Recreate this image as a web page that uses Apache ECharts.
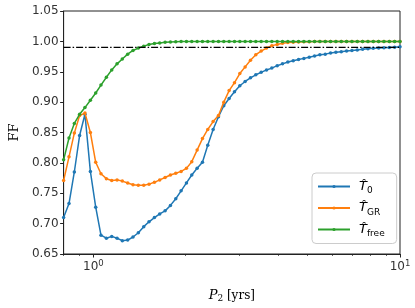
<!DOCTYPE html>
<html>
<head>
<meta charset="utf-8">
<script src="https://cdn.jsdelivr.net/npm/echarts@6/dist/echarts.min.js"></script>
<style>html,body{margin:0;padding:0;background:#fff}#c{width:415px;height:308px}</style>
</head>
<body>
<div id="c"></div>
<script>
var periods = [0.800,0.833,0.867,0.902,0.939,0.978,1.018,1.059,1.103,1.148,1.195,1.243,1.294,1.347,1.402,1.460,1.519,1.582,1.646,1.714,1.784,1.857,1.933,2.012,2.094,2.180,2.269,2.361,2.458,2.559,2.663,2.772,2.886,3.004,3.126,3.254,3.387,3.526,3.670,3.820,3.977,4.139,4.308,4.485,4.668,4.859,5.058,5.265,5.480,5.704,5.937,6.180,6.433,6.696,6.970,7.255,7.552,7.861,8.182,8.517,8.865,9.228,9.605,10.000];
var ffT0 = [0.710,0.733,0.785,0.845,0.880,0.786,0.727,0.681,0.676,0.679,0.676,0.672,0.673,0.678,0.685,0.695,0.703,0.710,0.716,0.721,0.730,0.741,0.754,0.767,0.780,0.791,0.801,0.829,0.855,0.876,0.894,0.906,0.917,0.927,0.934,0.940,0.945,0.949,0.953,0.956,0.960,0.963,0.966,0.968,0.970,0.972,0.974,0.976,0.978,0.979,0.981,0.982,0.983,0.984,0.985,0.986,0.987,0.988,0.9885,0.989,0.9895,0.990,0.9905,0.991];
var ffTGR = [0.771,0.810,0.849,0.878,0.882,0.850,0.801,0.782,0.774,0.771,0.772,0.770,0.767,0.764,0.763,0.763,0.765,0.768,0.772,0.776,0.780,0.783,0.786,0.791,0.802,0.821,0.840,0.855,0.868,0.878,0.900,0.919,0.932,0.947,0.958,0.969,0.978,0.984,0.989,0.993,0.995,0.997,0.998,0.9985,0.999,0.9993,0.9995,0.9997,0.9998,0.9999,1.0,1.0,1.0,1.0,1.0,1.0,1.0,1.0,1.0,1.0,1.0,1.0,1.0,1.0];
var ffTfree = [0.805,0.841,0.865,0.880,0.891,0.903,0.915,0.928,0.941,0.953,0.963,0.971,0.979,0.985,0.989,0.992,0.995,0.9965,0.9975,0.9985,0.999,0.9994,0.9996,0.9998,0.9999,1.0,1.0,1.0,1.0,1.0,1.0,1.0,1.0,1.0,1.0,1.0,1.0,1.0,1.0,1.0,1.0,1.0,1.0,1.0,1.0,1.0,1.0,1.0,1.0,1.0,1.0,1.0,1.0,1.0,1.0,1.0,1.0,1.0,1.0,1.0,1.0,1.0,1.0,1.0];
var thresholdFF = 0.99;
var seriesNames = ['T0', 'TGR', 'Tfree'];
var seriesSubs = ['0', 'GR', 'free'];
var majorXTicks = [1, 10];
var minorXTicks = [0.8, 0.9, 2, 3, 4, 5, 6, 7, 8, 9];
var colors = ['#1f77b4', '#ff7f0e', '#2ca02c'];

function pairs(ys) { return periods.map(function (p, i) { return [p, ys[i]]; }); }

var chart = echarts.init(document.getElementById('c'), null, {renderer: 'canvas'});
var allSeries = [ffT0, ffTGR, ffTfree].map(function (ys, k) {
  return {
    name: seriesNames[k], type: 'line', data: pairs(ys),
    symbol: 'circle', symbolSize: 3.5, showSymbol: true,
    lineStyle: {width: 1.5, color: colors[k]},
    itemStyle: {color: colors[k]},
    emphasis: {disabled: true}, z: 2 + k
  };
});
allSeries.push({
  name: 'thr', type: 'line', data: [[periods[0], thresholdFF], [periods[periods.length - 1], thresholdFF]],
  symbol: 'none', lineStyle: {width: 1.2, color: '#000', type: [7, 2, 1.5, 2]}, z: 10, silent: true
});

chart.setOption({
  animation: false,
  backgroundColor: '#fff',
  grid: {left: 63, right: 15, top: 11, bottom: 51, show: true, borderColor: '#222', borderWidth: 1, backgroundColor: 'transparent'},
  xAxis: [{
    type: 'log', logBase: 10, min: 0.8, max: 10,
    name: '{i|P}{sub|2}{r| [yrs]}', nameLocation: 'middle', nameGap: 34,
    nameTextStyle: {rich: {
      i: {fontFamily: 'DejaVu Serif', fontStyle: 'italic', fontSize: 13, color: '#000'},
      sub: {fontFamily: 'DejaVu Serif', fontSize: 9, color: '#000', verticalAlign: 'bottom', padding: [6, 0, 0, 0]},
      r: {fontFamily: 'DejaVu Serif', fontSize: 12, color: '#000'}
    }},
    axisLine: {show: true, lineStyle: {color: '#222', width: 1}},
    axisTick: {show: true, length: 3.5, lineStyle: {color: '#222'}, customValues: majorXTicks},
    axisLabel: {
      customValues: majorXTicks, margin: 5,
      formatter: function (v) {
        if (Math.abs(v - 1) < 1e-6) return '{b|10}{s|0}';
        if (Math.abs(v - 10) < 1e-6) return '{b|10}{s|1}';
        return '';
      },
      rich: {
        b: {fontFamily: 'DejaVu Sans', fontSize: 12, color: '#333'},
        s: {fontFamily: 'DejaVu Sans', fontSize: 8.5, color: '#333', verticalAlign: 'top', padding: [0, 0, 7, 0]}
      }
    },
    splitLine: {show: false}
  }, {
    type: 'log', logBase: 10, min: 0.8, max: 10, gridIndex: 0, position: 'bottom',
    axisLine: {show: false},
    axisTick: {show: true, length: 2, lineStyle: {color: '#222', width: 0.7}, customValues: minorXTicks},
    axisLabel: {show: false},
    splitLine: {show: false}
  }],
  yAxis: {
    type: 'value', min: 0.65, max: 1.05, interval: 0.05,
    name: 'FF', nameLocation: 'middle', nameGap: 38, nameRotate: 90,
    nameTextStyle: {fontFamily: 'DejaVu Serif', fontSize: 13, color: '#000'},
    axisLine: {show: true, lineStyle: {color: '#222', width: 1}},
    axisTick: {show: true, length: 3.5, lineStyle: {color: '#222'}},
    axisLabel: {fontFamily: 'DejaVu Sans', fontSize: 12, color: '#333', margin: 5,
      formatter: function (v) { return v.toFixed(2); }},
    splitLine: {show: false}
  },
  legend: {
    data: seriesNames, orient: 'vertical', left: 312, top: 173,
    backgroundColor: '#fff', borderColor: '#ccc', borderWidth: 1, borderRadius: 4,
    padding: [7, 12, 5, 5], itemGap: 6, itemWidth: 32, itemHeight: 4,
    formatter: function (n) {
      var k = seriesNames.indexOf(n);
      return '{t|T\u0302}{s|' + seriesSubs[k] + '}';
    },
    textStyle: {padding: [0, 0, 0, 4], rich: {
      t: {fontFamily: 'DejaVu Sans', fontStyle: 'italic', fontSize: 13, color: '#000', lineHeight: 18},
      s: {fontFamily: 'DejaVu Sans', fontSize: 9, color: '#000', verticalAlign: 'bottom', padding: [6, 0, 0, 0]}
    }}
  },
  series: allSeries
});
</script>
</body>
</html>
